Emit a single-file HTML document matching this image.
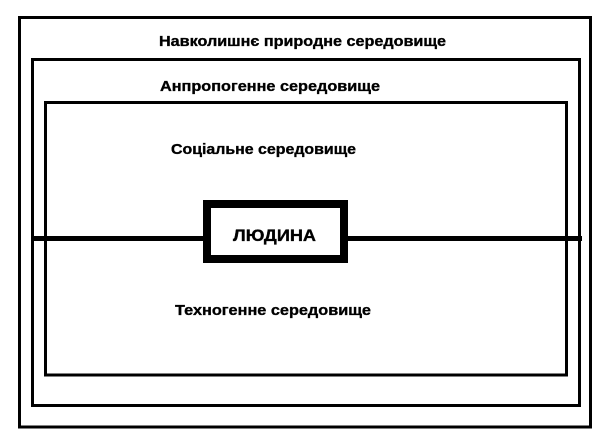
<!DOCTYPE html>
<html><head><meta charset="utf-8"><style>
html,body{margin:0;padding:0;background:#fff;}
svg{display:block;}
text{font-family:"Liberation Sans","DejaVu Sans",sans-serif;font-weight:bold;fill:#000;stroke:#000;stroke-width:0.35;}
</style></head><body>
<svg width="616" height="438" viewBox="0 0 616 438" xmlns="http://www.w3.org/2000/svg">
<rect width="616" height="438" fill="#fff"/>
<rect x="19.5" y="17.5" width="571" height="409.5" fill="none" stroke="#000" stroke-width="3"/>
<rect x="32.5" y="59.5" width="547" height="346" fill="none" stroke="#000" stroke-width="3"/>
<rect x="45.5" y="102.5" width="521" height="272.5" fill="none" stroke="#000" stroke-width="3"/>
<line x1="31" y1="238.5" x2="582" y2="238.5" stroke="#000" stroke-width="5"/>
<rect x="207" y="204" width="137" height="55" fill="#fff" stroke="#000" stroke-width="8"/>
<text x="159" y="46" font-size="15" textLength="287" lengthAdjust="spacingAndGlyphs">Навколишнє природне середовище</text>
<text x="160" y="91" font-size="15" textLength="220" lengthAdjust="spacingAndGlyphs">Анпропогенне середовище</text>
<text x="171" y="154" font-size="15" textLength="185" lengthAdjust="spacingAndGlyphs">Соціальне середовище</text>
<text x="233" y="241" font-size="16.5" textLength="83" lengthAdjust="spacingAndGlyphs">ЛЮДИНА</text>
<text x="175" y="315" font-size="15" textLength="196" lengthAdjust="spacingAndGlyphs">Техногенне середовище</text>
</svg>
</body></html>
